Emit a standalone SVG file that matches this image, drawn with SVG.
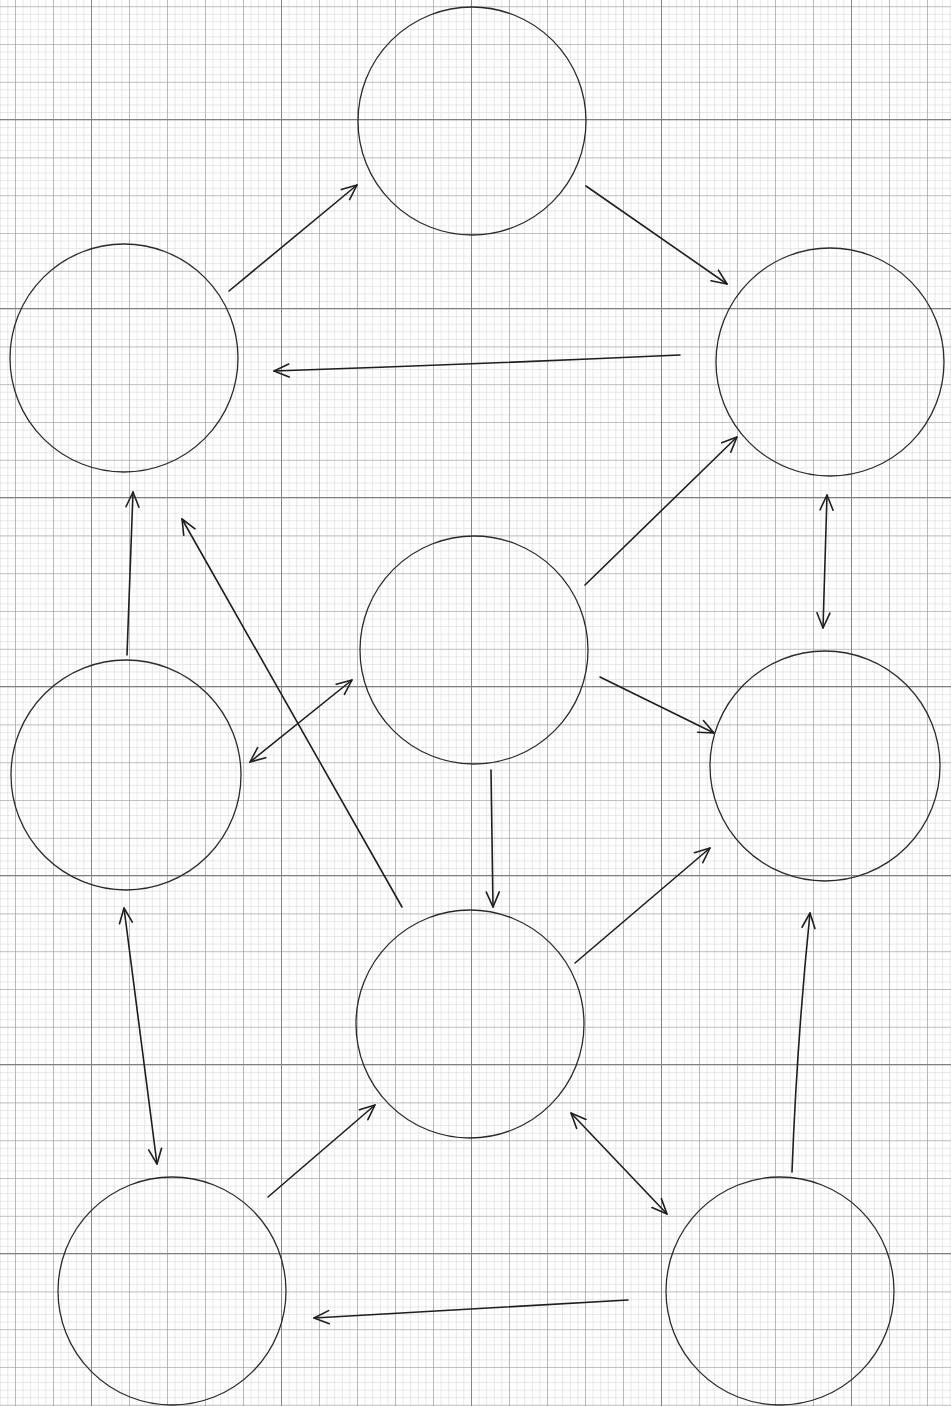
<svg xmlns="http://www.w3.org/2000/svg" width="951" height="1406" viewBox="0 0 951 1406">
<style>
.node circle{fill:none;stroke:#2a2a2a;stroke-width:1.3}
.edge{fill:none;stroke:#1e1e1e;stroke-width:1.6;stroke-linecap:round}
</style>
<defs>
<pattern id="minor" patternUnits="userSpaceOnUse" x="15" y="6.2" width="7.6" height="7.56">
<path d="M0,0 V7.56 M0,0 H7.6" fill="none" stroke="#cccccc" stroke-width="0.9"/>
</pattern>
<pattern id="major" patternUnits="userSpaceOnUse" x="15" y="6.2" width="38" height="37.8">
<path d="M0,0 V37.8 M0,0 H38" fill="none" stroke="#999999" stroke-width="1.2"/>
</pattern>
<pattern id="heavy" patternUnits="userSpaceOnUse" x="91" y="119" width="190" height="189">
<path d="M0,0 V189 M0,0 H190" fill="none" stroke="#808080" stroke-width="1.8"/>
</pattern>
<marker id="ah" viewBox="-16 -9 20 18" refX="0" refY="0" markerWidth="20" markerHeight="18" markerUnits="userSpaceOnUse" orient="auto-start-reverse">
<path d="M-15,-6.5 L0,0 L-15,6.5" fill="none" stroke="#1e1e1e" stroke-width="1.6" stroke-linecap="round" stroke-linejoin="round"/>
</marker>
</defs>
<rect width="951" height="1406" fill="#ffffff"/>
<rect width="951" height="1406" fill="url(#minor)"/>
<rect width="951" height="1406" fill="url(#major)"/>
<rect width="951" height="1406" fill="url(#heavy)"/>

<g id="node-top" class="node"><circle cx="472" cy="121" r="114"/></g>
<g id="node-upper-left" class="node"><circle cx="124" cy="358" r="114"/></g>
<g id="node-upper-right" class="node"><circle cx="830" cy="362" r="114"/></g>
<g id="node-center" class="node"><circle cx="474" cy="650" r="114"/></g>
<g id="node-mid-left" class="node"><circle cx="126" cy="775" r="115"/></g>
<g id="node-mid-right" class="node"><circle cx="825" cy="766" r="115"/></g>
<g id="node-lower-center" class="node"><circle cx="470" cy="1024" r="114"/></g>
<g id="node-bottom-left" class="node"><circle cx="172" cy="1291" r="114"/></g>
<g id="node-bottom-right" class="node"><circle cx="780" cy="1291" r="114"/></g>

<g id="connectors">
<path class="edge" d="M229,291 L357,185" marker-end="url(#ah)"/>
<path class="edge" d="M586,186 L727,284" marker-end="url(#ah)"/>
<path class="edge" d="M680,355 Q480,364 274,371" marker-end="url(#ah)"/>
<path class="edge" d="M585,585 L737,437" marker-end="url(#ah)"/>
<path class="edge" d="M827,495 L823,628" marker-start="url(#ah)" marker-end="url(#ah)"/>
<path class="edge" d="M352,680 L250,762" marker-start="url(#ah)" marker-end="url(#ah)"/>
<path class="edge" d="M127,655 L133,492" marker-end="url(#ah)"/>
<path class="edge" d="M402,907 L182,519" marker-end="url(#ah)"/>
<path class="edge" d="M600,677 L714,733" marker-end="url(#ah)"/>
<path class="edge" d="M491,770 L493,907" marker-end="url(#ah)"/>
<path class="edge" d="M575,963 L710,848" marker-end="url(#ah)"/>
<path class="edge" d="M124,908 L157,1164" marker-start="url(#ah)" marker-end="url(#ah)"/>
<path class="edge" d="M268,1197 L375,1105" marker-end="url(#ah)"/>
<path class="edge" d="M571,1113 L667,1214" marker-start="url(#ah)" marker-end="url(#ah)"/>
<path class="edge" d="M792,1172 Q797,1040 810,913" marker-end="url(#ah)"/>
<path class="edge" d="M628,1300 L314,1318" marker-end="url(#ah)"/>
</g>
</svg>
